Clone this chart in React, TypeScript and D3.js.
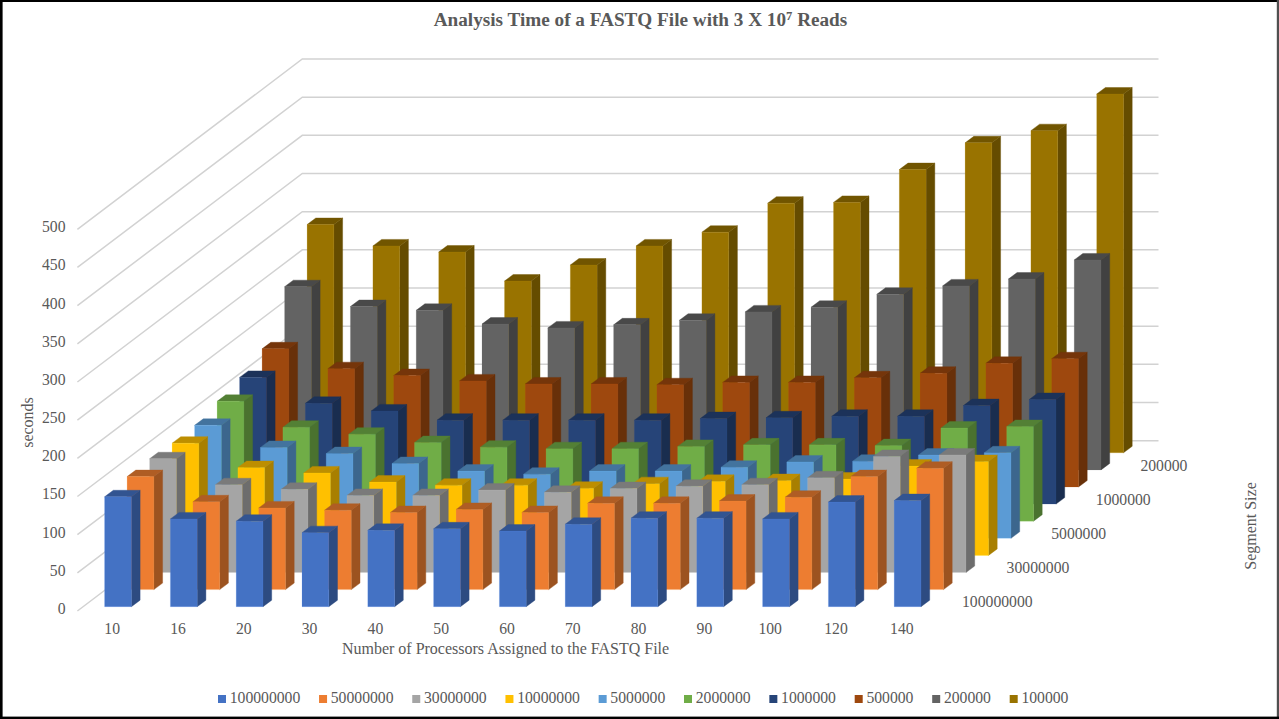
import React from "react";
import * as d3 from "d3";

const categories = ["10", "16", "20", "30", "40", "50", "60", "70", "80", "90", "100", "120", "140"];
const seriesNames = ["100000000", "50000000", "30000000", "10000000", "5000000", "2000000", "1000000", "500000", "200000", "100000"];
const depthLabels = ["100000000", "30000000", "5000000", "1000000", "200000"];
const yTicks = [0, 50, 100, 150, 200, 250, 300, 350, 400, 450, 500];
const colors = ["#4472C4", "#ED7D31", "#A5A5A5", "#FFC000", "#5B9BD5", "#70AD47", "#264478", "#9E480E", "#636363", "#997300"];

const s100000000 = [144, 115, 112, 97, 100, 102, 99, 108, 116, 116, 115, 137, 139];
const s50000000 = [148, 115, 107, 104, 101, 105, 101, 113, 113, 116, 121, 148, 159];
const s30000000 = [149, 115, 109, 101, 101, 108, 105, 110, 113, 115, 124, 152, 154];
const s10000000 = [147, 115, 108, 96, 92, 92, 88, 94, 97, 98, 100, 117, 123];
const s5000000 = [148, 119, 111, 98, 88, 84, 88, 88, 93, 100, 101, 109, 112];
const s2000000 = [157, 123, 114, 103, 97, 95, 95, 98, 100, 100, 99, 122, 124];
const s1000000 = [166, 132, 122, 110, 110, 110, 110, 112, 113, 115, 115, 129, 137];
const s500000 = [181, 155, 146, 139, 135, 135, 134, 137, 137, 143, 149, 162, 168];
const s200000 = [240, 214, 209, 191, 186, 190, 196, 207, 213, 230, 241, 250, 275];
const s100000 = [299, 271, 263, 225, 246, 271, 289, 327, 328, 371, 406, 422, 470];
const allSeries = [s100000000, s50000000, s30000000, s10000000, s5000000, s2000000, s1000000, s500000, s200000, s100000];

const TEXT = "#595959";
const FONT = "'Liberation Serif', 'Times New Roman', serif";

// oblique projection of the 3D box
const xBand = d3.scalePoint<string>().domain(categories).range([104.6, 104.6 + 65.8 * 12]);
const depthX = d3.scaleLinear().domain([0, 9]).range([0, 202.5]);
const depthY = d3.scaleLinear().domain([0, 9]).range([606.7, 452.8]);
const hScale = d3.scaleLinear().domain([0, 500]).range([0, 381.7]);
const barW = 26.8;
const capX = 8.7;
const capY = 6.5;

const poly = (pts: [number, number][]) => d3.line()(pts) + "Z";
const shade = (c: string, k: number) => {
  const r = d3.rgb(c);
  return d3.rgb(r.r * k, r.g * k, r.b * k).formatHex();
};

function Bar({ x, base, h, color }: { x: number; base: number; h: number; color: string }) {
  const top = base - h;
  const front = poly([[x, top], [x + barW, top], [x + barW, base], [x, base]]);
  const side = poly([[x + barW, top], [x + barW + capX, top - capY], [x + barW + capX, base - capY], [x + barW, base]]);
  const cap = poly([[x, top], [x + capX, top - capY], [x + barW + capX, top - capY], [x + barW, top]]);
  const sideC = shade(color, 0.66);
  const capC = shade(color, 0.74);
  const edge = d3.rgb(color).brighter(0.6).formatHex();
  return (
    <g>
      <path d={side} fill={sideC} stroke={sideC} strokeWidth={0.4} />
      <path d={cap} fill={capC} stroke={capC} strokeWidth={0.4} />
      <path d={front} fill={color} stroke={edge} strokeWidth={0.5} strokeOpacity={0.35} />
    </g>
  );
}

export default function App() {
  const wallLeft = 302.3;
  const wallRight = 1158.5;
  const wallBase = 440.7;
  const frontLeft = 77.4;
  const frontBase = 611;

  const legendW = seriesNames.map((s) => 11.7 + s.length * 7.85 + 18.7);
  const legendX = [0, ...d3.cumsum(legendW)].map((v) => 218 + v);

  return (
    <svg
      width={1279}
      height={719}
      viewBox="0 0 1279 719"
      style={{ position: "fixed", left: 0, top: 0, display: "block", background: "#fff" }}
      fontFamily={FONT}
    >
      <rect x={0} y={0} width={1279} height={719} fill="#fff" />

      {/* walls */}
      {yTicks.map((t) => {
        const d = hScale(t);
        return (
          <path
            key={t}
            d={d3.line()([[frontLeft, frontBase - d], [wallLeft, wallBase - d], [wallRight, wallBase - d]]) as string}
            fill="none"
            stroke="#d2d2d2"
            strokeWidth={1.5}
          />
        );
      })}

      {/* bars, back row first */}
      {d3.range(allSeries.length - 1, -1, -1).map((si) => (
        <g key={seriesNames[si]}>
          {allSeries[si].map((v, k) => (
            <Bar
              key={categories[k]}
              x={(xBand(categories[k]) as number) + depthX(si)}
              base={depthY(si)}
              h={hScale(v)}
              color={colors[si]}
            />
          ))}
        </g>
      ))}

      {/* title */}
      <text x={640.5} y={26} textAnchor="middle" fontSize={19.2} fontWeight="bold" fill={TEXT}>
        Analysis Time of a FASTQ File with 3 X 10
        <tspan dy={-6.5} fontSize={12.6}>7</tspan>
        <tspan dy={6.5}> Reads</tspan>
      </text>

      {/* value axis */}
      {yTicks.map((t) => (
        <text key={t} x={65.5} y={614 - hScale(t)} textAnchor="end" fontSize={15.7} fill={TEXT}>
          {t}
        </text>
      ))}
      <text transform="translate(33,422.5) rotate(-90)" textAnchor="middle" fontSize={16} fill={TEXT}>
        seconds
      </text>

      {/* category axis */}
      {categories.map((c) => (
        <text key={c} x={(xBand(c) as number) + 7.6} y={634} textAnchor="middle" fontSize={15.7} fill={TEXT}>
          {c}
        </text>
      ))}
      <text x={505.5} y={654} textAnchor="middle" fontSize={16} fill={TEXT}>
        Number of Processors Assigned to the FASTQ File
      </text>

      {/* depth axis */}
      {depthLabels.map((l, i) => (
        <text key={l} x={962 + i * 44.6} y={606.8 - i * 34} fontSize={15.7} fill={TEXT}>
          {l}
        </text>
      ))}
      <text transform="translate(1256,526) rotate(-90)" textAnchor="middle" fontSize={16} fill={TEXT}>
        Segment Size
      </text>

      {/* legend */}
      {seriesNames.map((s, i) => (
        <g key={s}>
          <rect x={legendX[i]} y={695} width={8} height={8} fill={colors[i]} />
          <text x={legendX[i] + 11.7} y={702.5} fontSize={15.7} fill={TEXT}>
            {s}
          </text>
        </g>
      ))}

      {/* frame */}
      <rect x={0} y={0} width={1279} height={2} fill="#000" />
      <rect x={0} y={0} width={2.6} height={719} fill="#000" />
      <rect x={1276.8} y={0} width={2.2} height={719} fill="#505050" />
      <rect x={0} y={716.6} width={1279} height={2.4} fill="#000" />
    </svg>
  );
}
